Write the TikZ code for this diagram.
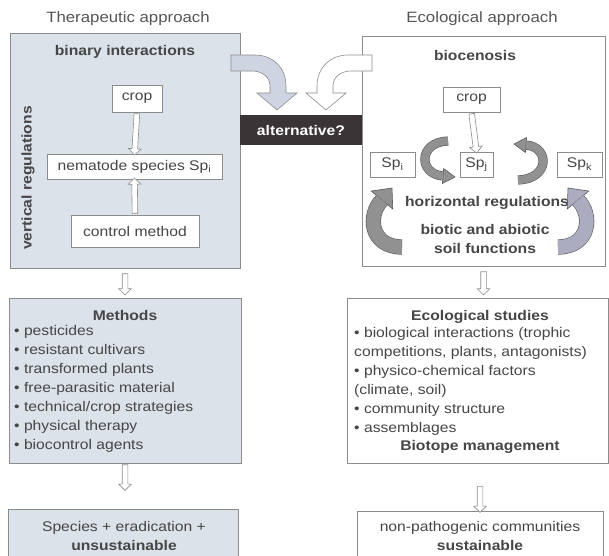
\documentclass[tikz,border=0pt]{standalone}
\usepackage{fontspec}
\setmainfont{Liberation Sans}[FakeStretch=1.12]
\usetikzlibrary{shapes,arrows,positioning,calc}
\definecolor{boxblue}{RGB}{220,226,234}
\definecolor{framegray}{RGB}{140,140,140}
\definecolor{inkgray}{RGB}{70,70,70}
\definecolor{titlegray}{RGB}{85,85,85}
\definecolor{altdark}{RGB}{58,52,54}
\definecolor{bendblue}{RGB}{207,212,226}
\definecolor{swirlgray}{RGB}{145,145,145}
\definecolor{swirledge}{RGB}{90,90,90}
\definecolor{swirlblue}{RGB}{172,172,192}

% hollow block arrow between two points, optional gap at both ends
\newcommand{\hollowarr}[3][0]{%
  \path let \p1=($(#3)-(#2)$), \n1={veclen(\x1,\y1)-2*#1} in
    (#2) -- (#3) node[hollow, midway, sloped, allow upside down, minimum height=\n1] {};}

% curved grey arrow: fill, start, control 1, control 2, end, tip, body width, half head
\newcommand{\swirl}[8]{%
  \filldraw[swirlline, fill=#1] ($(#5)!#8!90:(#6)$) -- (#6) -- ($(#5)!#8!-90:(#6)$) -- cycle;
  \draw[swirlline, double=#1, double distance=#7] (#2) .. controls (#3) and (#4) .. (#5);}

\tikzset{
  swirlline/.style={draw=swirledge, line width=0.6pt},
  hollow/.style={single arrow, draw=framegray, fill=white, line width=0.6pt, inner sep=2.5pt,
                 single arrow head extend=3.5pt, single arrow head indent=0pt}
}

\begin{document}
\begin{tikzpicture}[x=1pt, y=-1pt, font=\fontsize{14}{19}\selectfont, text=inkgray,
  cell/.style={draw=framegray, fill=white, line width=0.7pt, inner sep=0pt},
  bluecell/.style={cell, fill=boxblue},
  head/.style={font=\fontsize{14}{19}\selectfont\bfseries}]
  \useasboundingbox (0,0) rectangle (609,555);

  % titles
  \node[font=\fontsize{15}{19}\selectfont, text=titlegray] (thertitle) at (128,19) {Therapeutic approach};
  \node[font=\fontsize{15}{19}\selectfont, text=titlegray] (ecotitle) at (482,19) {Ecological approach};

  % therapeutic panel
  \node[bluecell, minimum width=230pt, minimum height=235pt] (ther) at (125,150.5) {};
  \node[head] (binary) at (125,52) {binary interactions};
  \node[cell, minimum width=50pt, minimum height=27pt] (cropL) at (137,98.5) {crop};
  \node[cell, minimum width=175pt, minimum height=25pt] (nema) at (134.5,166.5) {nematode species Sp\textsubscript{i}};
  \node[cell, minimum width=128pt, minimum height=32pt] (ctrl) at (135,231) {control method};
  \node[head, rotate=90] (vert) at (28,178) {vertical regulations};

  % ecological panel
  \node[cell, minimum width=243pt, minimum height=230pt] (eco) at (483.5,151) {};
  \node[head] (bioc) at (475,55) {biocenosis};
  \node[cell, minimum width=57pt, minimum height=25pt] (cropR) at (471.5,99.5) {crop};
  \node[cell, minimum width=45pt, minimum height=25pt] (spi) at (392.5,164.5) {Sp\textsubscript{i}};
  \node[cell, minimum width=33pt, minimum height=25pt] (spj) at (476.5,164.5) {Sp\textsubscript{j}};
  \node[cell, minimum width=45pt, minimum height=25pt] (spk) at (579.5,164.5) {Sp\textsubscript{k}};
  \node[head] (horiz) at (487,203) {horizontal regulations};
  \node[head, align=center] (soil) at (485,239) {biotic and abiotic\\soil functions};

  % bent arrows towards the question
  \filldraw[draw=framegray, fill=bendblue, line width=0.6pt] (231,55) -- (255,55)
    .. controls (273,55) and (286,68) .. (286,86) -- (286,93) -- (297,93) -- (277,110)
    -- (257,93) -- (270,93) -- (270,86) .. controls (270,77) and (262,71) .. (252,71)
    -- (231,71) -- cycle;
  \filldraw[draw=framegray, fill=white, line width=0.6pt] (372,55) -- (348,55)
    .. controls (330,55) and (317,68) .. (317,86) -- (317,93) -- (306,93) -- (326,110)
    -- (346,93) -- (333,93) -- (333,86) .. controls (333,77) and (341,71) .. (351,71)
    -- (372,71) -- cycle;
  \node[fill=altdark, text=white, head, minimum width=122pt, minimum height=30pt] (alt) at (301,130) {alternative?};

  % regulation loops
  \swirl{swirlgray}{448,141}{418,142}{418,174}{443,176}{455,177}{8pt}{7.5pt}
  \swirl{swirlgray}{518,180}{550,179}{550,147}{526,145}{514,144}{8pt}{7.5pt}
  \swirl{swirlgray}{402,247}{370,247}{367,215}{382,200}{392,188}{14pt}{14pt}
  \swirl{swirlblue}{558,247}{590,247}{593,215}{578,200}{568,188}{14pt}{14pt}

  % methods and studies
  \node[bluecell, minimum width=232pt, minimum height=165pt] (meth) at (125,380.5) {};
  \node[head] (methtitle) at (125,315) {Methods};
  \node[align=left, anchor=north west, inner sep=0pt] (methlist) at (14,325)
       {\textbullet{} pesticides\\
        \textbullet{} resistant cultivars\\
        \textbullet{} transformed plants\\
        \textbullet{} free-parasitic material\\
        \textbullet{} technical/crop strategies\\
        \textbullet{} physical therapy\\
        \textbullet{} biocontrol agents};

  \node[cell, minimum width=261pt, minimum height=165pt] (stud) at (477.5,380.5) {};
  \node[head] (studtitle) at (480,317) {Ecological studies};
  \node[align=left, anchor=north west, inner sep=0pt] (studlist) at (354,327)
       {\textbullet{} biological interactions (trophic\\
        competitions, plants, antagonists)\\
        \textbullet{} physico-chemical factors\\
        (climate, soil)\\
        \textbullet{} community structure\\
        \textbullet{} assemblages};
  \node[head] (biot) at (480,447) {Biotope management};

  % outcomes
  \node[bluecell, minimum width=230pt, minimum height=70pt, anchor=north] (erad) at (123,509) {};
  \node[align=center] (eradtext) at (124,536) {Species + eradication +\\\textbf{unsustainable}};
  \node[cell, minimum width=246pt, minimum height=70pt, anchor=north] (sust) at (480,511) {};
  \node[align=center] (susttext) at (480,536) {non-pathogenic communities\\\textbf{sustainable}};

  % hollow arrows
  \coordinate (studin) at (eco.south |- stud.north);
  \coordinate (eradin) at (125,489);
  \coordinate (sustout) at (480,485);
  \hollowarr{cropL.south}{nema.north}
  \hollowarr{ctrl.north}{nema.south}
  \hollowarr{cropR.south}{spj.north}
  \hollowarr[4]{ther.south}{meth.north}
  \hollowarr[4]{eco.south}{studin}
  \hollowarr{meth.south}{eradin}
  \hollowarr{sustout}{sust.north}
\end{tikzpicture}
\end{document}
